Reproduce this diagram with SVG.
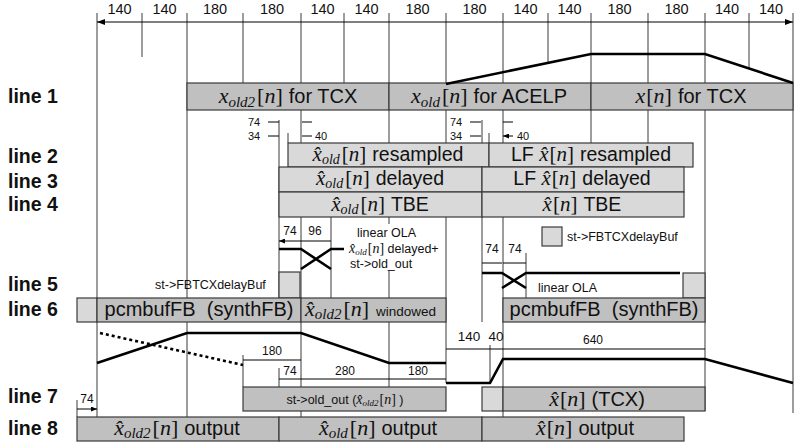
<svg xmlns="http://www.w3.org/2000/svg" width="800" height="443" viewBox="0 0 800 443">
<defs>
<marker id="ah" viewBox="0 0 8 6" refX="8" refY="3" markerWidth="8" markerHeight="6" markerUnits="userSpaceOnUse" orient="auto-start-reverse"><path d="M0,0L8,3L0,6z" fill="#000"/></marker>
<marker id="as" viewBox="0 0 6 5" refX="6" refY="2.5" markerWidth="6" markerHeight="5" markerUnits="userSpaceOnUse" orient="auto-start-reverse"><path d="M0,0L6,2.5L0,5z" fill="#000"/></marker>
</defs>
<style>
.v{stroke:#3a3a3a;stroke-width:1;fill:none}
.b1{fill:#c0c0c0;stroke:#3a3a3a;stroke-width:1.2}
.b2{fill:#d9d9d9;stroke:#3a3a3a;stroke-width:1.2}
.d{stroke:#000;stroke-width:1;fill:none;marker-start:url(#ah);marker-end:url(#ah)}
.ds{stroke:#000;stroke-width:1;fill:none;marker-start:url(#as);marker-end:url(#as)}
.s1{stroke:#000;stroke-width:1;fill:none;marker-end:url(#as)}
.w{stroke:#000;stroke-width:2.6;fill:none}
text{font-family:"Liberation Sans",Arial,sans-serif;fill:#111}
.lbl{font-size:19.5px;font-weight:bold}
.big{font-size:20px}
.mid{font-size:19.5px}
.mi{font-family:"Liberation Serif","Times New Roman",serif;font-style:italic}
.mr{font-family:"Liberation Serif","Times New Roman",serif}
.M{font-size:22px}
.M2{font-size:21px}
.sub{font-family:"Liberation Serif","Times New Roman",serif;font-style:italic;font-size:15px}
.sub2{font-family:"Liberation Serif","Times New Roman",serif;font-style:italic;font-size:14px}
.n14{font-size:14.5px}
.n13{font-size:13.5px}
.n12{font-size:12px}
.n11{font-size:11px}
.sm{font-size:12.5px}
</style>
<rect width="800" height="443" fill="#fff"/>

<g id="grid">
<path class="v" d="M97,13V417M142,13V57M187,13V417M243,13V83M243,355V387M301,13V417M344,13V83M389,13V387M446,13V383M503,13V417M548,13V63M591,13V143M648,13V143M705,13V411M749,13V69M793,13V413M279,120V298M279,368V387M482,120V322M331,217V298M526,253V298M288,133V143M489,133V143M490,345V383M77,400V417"/>
</g>

<g id="ruler">
<path class="d" d="M97,22H142M142,22H187M187,22H243M243,22H301M301,22H344M344,22H389M389,22H446M446,22H503M503,22H548M548,22H591M591,22H648M648,22H705M705,22H749M749,22H793"/>
<g class="n14" text-anchor="middle">
<text x="119.5" y="14">140</text><text x="164.5" y="14">140</text><text x="215" y="14">180</text><text x="272" y="14">180</text>
<text x="322.5" y="14">140</text><text x="366.5" y="14">140</text><text x="417.5" y="14">180</text><text x="474.5" y="14">180</text>
<text x="525.5" y="14">140</text><text x="569.5" y="14">140</text><text x="619.5" y="14">180</text><text x="676.5" y="14">180</text>
<text x="727" y="14">140</text><text x="771" y="14">140</text>
</g>
</g>

<g id="row-labels" class="lbl">
<text x="8" y="103">line 1</text>
<text x="8" y="163">line 2</text>
<text x="8" y="188">line 3</text>
<text x="8" y="211">line 4</text>
<text x="8" y="291">line 5</text>
<text x="8" y="316">line 6</text>
<text x="8" y="403">line 7</text>
<text x="8" y="435">line 8</text>
</g>

<g id="line1-xold2">
<rect class="b1" x="187" y="83" width="202" height="27"/>
<text x="288" y="103" class="big" text-anchor="middle"><tspan class="mi M">x</tspan><tspan class="sub" dy="4">old2</tspan><tspan class="mr M" dy="-4" dx="2">[</tspan><tspan class="mi M">n</tspan><tspan class="mr M">]</tspan><tspan dx="6">for TCX</tspan></text>
</g>
<g id="line1-xold">
<rect class="b1" x="389" y="83" width="202" height="27"/>
<text x="489" y="103" class="big" text-anchor="middle"><tspan class="mi M">x</tspan><tspan class="sub" dy="4">old</tspan><tspan class="mr M" dy="-4" dx="2">[</tspan><tspan class="mi M">n</tspan><tspan class="mr M">]</tspan><tspan dx="6">for ACELP</tspan></text>
</g>
<g id="line1-x">
<rect class="b1" x="591" y="83" width="202" height="27"/>
<text x="691" y="103" class="big" text-anchor="middle"><tspan class="mi M">x</tspan><tspan class="mr M" dx="1">[</tspan><tspan class="mi M">n</tspan><tspan class="mr M">]</tspan><tspan dx="6">for TCX</tspan></text>
</g>

<g id="line2-xold-resampled">
<rect class="b2" x="288" y="143" width="201" height="24"/>
<text x="388" y="161" class="mid" text-anchor="middle"><tspan class="mi M2">x&#770;</tspan><tspan class="sub2" dy="3">old</tspan><tspan class="mr M2" dy="-3" dx="2">[</tspan><tspan class="mi M2">n</tspan><tspan class="mr M2">]</tspan><tspan dx="6">resampled</tspan></text>
</g>
<g id="line2-lf-resampled">
<rect class="b2" x="489" y="143" width="204" height="24"/>
<text x="591" y="161" class="mid" text-anchor="middle">LF <tspan class="mi M2">x&#770;</tspan><tspan class="mr M2" dx="1">[</tspan><tspan class="mi M2">n</tspan><tspan class="mr M2">]</tspan><tspan dx="6">resampled</tspan></text>
</g>
<g id="line3-xold-delayed">
<rect class="b2" x="279" y="167" width="203" height="25"/>
<text x="380" y="185" class="mid" text-anchor="middle"><tspan class="mi M2">x&#770;</tspan><tspan class="sub2" dy="3">old</tspan><tspan class="mr M2" dy="-3" dx="2">[</tspan><tspan class="mi M2">n</tspan><tspan class="mr M2">]</tspan><tspan dx="6">delayed</tspan></text>
</g>
<g id="line3-lf-delayed">
<rect class="b2" x="482" y="167" width="202" height="25"/>
<text x="582" y="185" class="mid" text-anchor="middle">LF <tspan class="mi M2">x&#770;</tspan><tspan class="mr M2" dx="1">[</tspan><tspan class="mi M2">n</tspan><tspan class="mr M2">]</tspan><tspan dx="6">delayed</tspan></text>
</g>
<g id="line4-xold-tbe">
<rect class="b2" x="279" y="192" width="203" height="25"/>
<text x="380" y="211" class="mid" text-anchor="middle"><tspan class="mi M2">x&#770;</tspan><tspan class="sub2" dy="3">old</tspan><tspan class="mr M2" dy="-3" dx="2">[</tspan><tspan class="mi M2">n</tspan><tspan class="mr M2">]</tspan><tspan dx="6">TBE</tspan></text>
</g>
<g id="line4-x-tbe">
<rect class="b2" x="482" y="192" width="202" height="25"/>
<text x="582" y="211" class="mid" text-anchor="middle"><tspan class="mi M2">x&#770;</tspan><tspan class="mr M2" dx="1">[</tspan><tspan class="mi M2">n</tspan><tspan class="mr M2">]</tspan><tspan dx="6">TBE</tspan></text>
</g>

<g id="line5-delaybuf-left">
<rect class="b2" x="279" y="272" width="21" height="26"/>
<text x="155" y="289" class="sm">st-&gt;FBTCXdelayBuf</text>
</g>
<g id="line5-delaybuf-right">
<rect class="b2" x="683" y="273" width="22" height="25"/>
</g>
<g id="legend">
<rect class="b2" x="542" y="227" width="20" height="19"/>
<text x="567" y="241" class="sm">st-&gt;FBTCXdelayBuf</text>
</g>

<g id="line6-small">
<rect class="b2" x="77" y="298" width="20" height="24"/>
</g>
<g id="line6-pcmbuf-left">
<rect class="b1" x="97" y="298" width="204" height="24"/>
<text x="199" y="316" class="big" text-anchor="middle" xml:space="preserve">pcmbufFB  (synthFB)</text>
</g>
<g id="line6-windowed">
<rect class="b1" x="301" y="298" width="145" height="24"/>
<text x="305" y="316" class="big"><tspan class="mi M">x&#770;</tspan><tspan class="sub" dy="3">old2</tspan><tspan class="mr M" dy="-3" dx="2">[</tspan><tspan class="mi M">n</tspan><tspan class="mr M">]</tspan><tspan class="n13" dx="7">windowed</tspan></text>
</g>
<g id="line6-pcmbuf-right">
<rect class="b1" x="503" y="298" width="202" height="24"/>
<text x="604" y="316" class="big" text-anchor="middle" xml:space="preserve">pcmbufFB  (synthFB)</text>
</g>

<g id="line7-oldout">
<rect class="b1" x="243" y="387" width="203" height="24"/>
<text x="345" y="404" class="sm" text-anchor="middle">st-&gt;old_out (<tspan class="mi" style="font-size:14px">x&#770;</tspan><tspan class="mi" style="font-size:9px" dy="2">old2</tspan><tspan class="mr" style="font-size:14px" dy="-2" dx="1">[</tspan><tspan class="mi" style="font-size:14px">n</tspan><tspan class="mr" style="font-size:14px">]</tspan> )</text>
</g>
<g id="line7-gap">
<rect class="b2" x="482" y="387" width="21" height="24"/>
</g>
<g id="line7-tcx">
<rect class="b1" x="503" y="387" width="202" height="24"/>
<text x="597" y="406" class="big" text-anchor="middle"><tspan class="mi M">x&#770;</tspan><tspan class="mr M" dx="1">[</tspan><tspan class="mi M">n</tspan><tspan class="mr M">]</tspan><tspan dx="6">(TCX)</tspan></text>
</g>

<g id="line8-xold2-out">
<rect class="b1" x="77" y="417" width="202" height="24"/>
<text x="177" y="435" class="big" text-anchor="middle"><tspan class="mi M">x&#770;</tspan><tspan class="sub" dy="3">old2</tspan><tspan class="mr M" dy="-3" dx="2">[</tspan><tspan class="mi M">n</tspan><tspan class="mr M">]</tspan><tspan dx="6">output</tspan></text>
</g>
<g id="line8-xold-out">
<rect class="b1" x="279" y="417" width="203" height="24"/>
<text x="378" y="435" class="big" text-anchor="middle"><tspan class="mi M">x&#770;</tspan><tspan class="sub" dy="3">old</tspan><tspan class="mr M" dy="-3" dx="2">[</tspan><tspan class="mi M">n</tspan><tspan class="mr M">]</tspan><tspan dx="6">output</tspan></text>
</g>
<g id="line8-x-out">
<rect class="b1" x="482" y="417" width="202" height="24"/>
<text x="585" y="435" class="big" text-anchor="middle"><tspan class="mi M">x&#770;</tspan><tspan class="mr M" dx="1">[</tspan><tspan class="mi M">n</tspan><tspan class="mr M">]</tspan><tspan dx="6">output</tspan></text>
</g>

<g id="connectors">
<path class="w" d="M446,84L591,54H705L793,83"/>
<path class="w" d="M279,249H301L331,269M301,269L331,249H344"/>
<path class="w" d="M482,273H502L526,288M502,288L526,273H680"/>
<path class="w" d="M97,363L187,333H301L389,363H446"/>
<path class="w" d="M446,383H490L503,359H705L793,383"/>
<path class="w" d="M100,333L243,365" stroke-dasharray="3 3"/>

<path class="s1" d="M268,122H279M312,122H302M268,136H279M312,136H302M470,122H481M513,122H503M470,136H481M513,136H503"/>
<path class="ds" d="M279,241H301M301,241H331M482,263H502M503,263H526M243,360H301M279,379H301M301,379H389M389,379H446M446,349H490M490,349H503M503,349H705M77,409H97"/>
</g>

<g id="dim-labels">
<g class="n11">
<text x="248" y="126">74</text><text x="248" y="140">34</text><text x="315" y="140">40</text>
<text x="450" y="126">74</text><text x="450" y="140">34</text><text x="517" y="140">40</text>
</g>
<g class="n12" text-anchor="middle">
<text x="290" y="235">74</text><text x="315" y="235">96</text>
<text x="492" y="253">74</text><text x="515" y="253">74</text>
<text x="272" y="355">180</text>
<text x="290" y="375">74</text><text x="345" y="375">280</text><text x="418" y="375">180</text>
<text x="593" y="344">640</text>
<text x="87" y="403">74</text>
</g>
<g class="n13" text-anchor="middle">
<text x="469" y="341">140</text><text x="496" y="341">40</text>
</g>
</g>

<g id="ola-notes">
<rect x="346" y="224" width="80" height="47" fill="#fff"/>
<text x="357" y="237" class="sm">linear OLA</text>
<text x="349" y="253" class="sm"><tspan class="mi" style="font-size:14px">x&#770;</tspan><tspan class="mi" style="font-size:9px" dy="2">old</tspan><tspan class="mr" style="font-size:14px" dy="-2" dx="1">[</tspan><tspan class="mi" style="font-size:14px">n</tspan><tspan class="mr" style="font-size:14px">]</tspan> delayed+</text>
<text x="350" y="268" class="sm">st-&gt;old_out</text>
<text x="538" y="292" class="sm">linear OLA</text>
</g>
</svg>
